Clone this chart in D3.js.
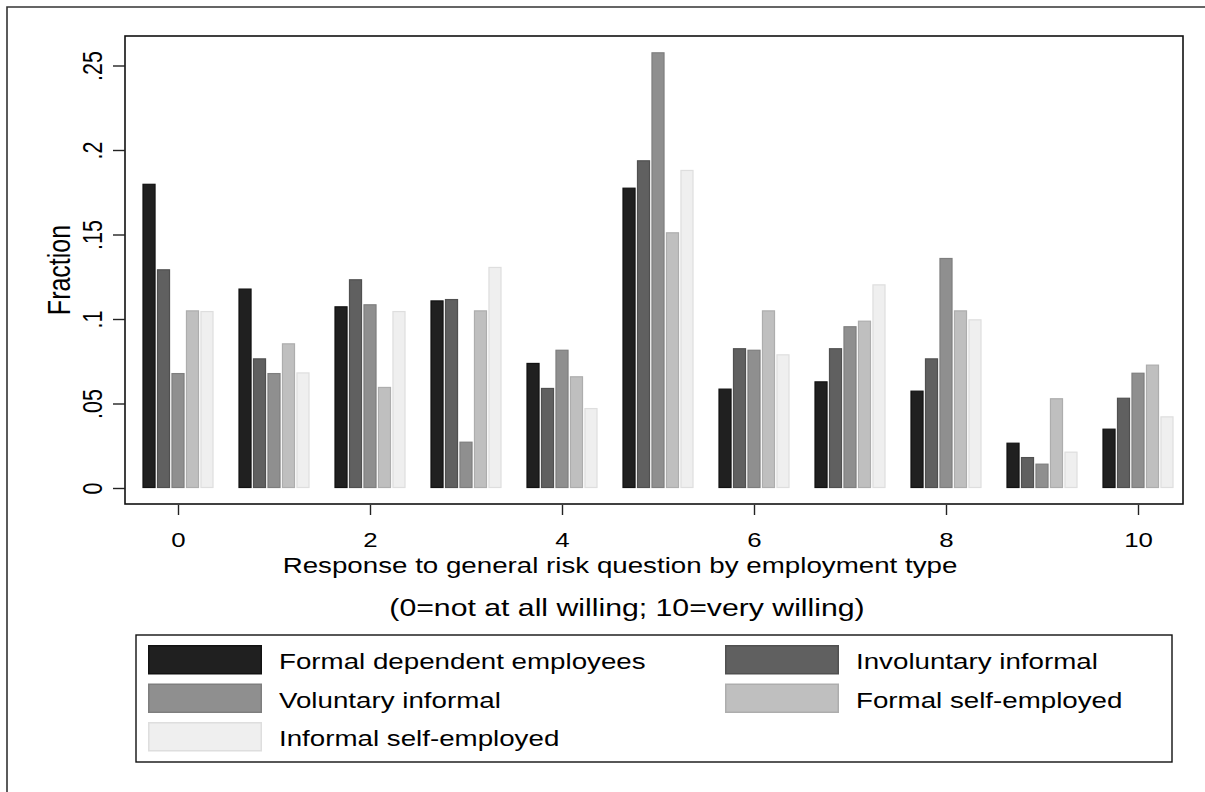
<!DOCTYPE html>
<html>
<head>
<meta charset="utf-8">
<script src="https://cdn.jsdelivr.net/npm/d3@7"></script>
<style>
  html, body { margin: 0; padding: 0; background: #fff; }
  svg { display: block; font-family: Arial, "Liberation Sans", sans-serif; }
</style>
</head>
<body>
<svg id="chart" width="1205" height="792"></svg>
<script>
// Risk-willingness responses (0-10) by employment type, as fractions
const responses = [0, 1, 2, 3, 4, 5, 6, 7, 8, 9, 10];
const seriesNames = [
  "Formal dependent employees",
  "Involuntary informal",
  "Voluntary informal",
  "Formal self-employed",
  "Informal self-employed"
];
const formalDependent   = [0.180, 0.118, 0.1075, 0.111, 0.074, 0.1777, 0.0588, 0.0631, 0.0576, 0.0268, 0.0351];
const involuntaryInf    = [0.1294, 0.0767, 0.1235, 0.1118, 0.0592, 0.1939, 0.0827, 0.0827, 0.0767, 0.0183, 0.0534];
const voluntaryInf      = [0.068, 0.068, 0.1087, 0.0274, 0.0818, 0.2578, 0.0818, 0.0957, 0.1361, 0.0144, 0.0682];
const formalSelfEmp     = [0.1051, 0.0856, 0.0598, 0.1051, 0.0661, 0.1513, 0.1051, 0.099, 0.1051, 0.0531, 0.073];
const informalSelfEmp   = [0.1047, 0.0684, 0.1047, 0.1308, 0.0473, 0.1882, 0.0791, 0.1205, 0.0998, 0.0215, 0.0424];
const seriesValues = [formalDependent, involuntaryInf, voluntaryInf, formalSelfEmp, informalSelfEmp];

const yTicks = [0, 0.05, 0.1, 0.15, 0.2, 0.25];
const yTickLabels = ["0", ".05", ".1", ".15", ".2", ".25"];
const xTicks = [0, 2, 4, 6, 8, 10];

const fills   = ["#202020", "#606060", "#8f8f8f", "#bfbfbf", "#efefef"];
const strokes = ["#121212", "#505050", "#7e7e7e", "#adadad", "#dedede"];

// glyphs in this graph are drawn wide: horizontal stretch factor for all text
const SX = 1.26;

const svg = d3.select("#chart");

// outer graph frame (left and top edges)
svg.append("path")
  .attr("d", "M7,792 L7,7 L1205,7")
  .attr("fill", "none").attr("stroke", "#333").attr("stroke-width", 1.6);

const plot = { left: 125, top: 36, right: 1183, bottom: 504 };

const x = d3.scaleLinear().domain([0, 10]).range([178, 1138]);
const y = d3.scaleLinear().domain([0, 0.25]).range([488, 65.5]);
const xInner = d3.scaleBand().domain(d3.range(seriesNames.length)).range([-35.5, 35.5]).paddingInner(0.1);

// bars
const groups = svg.append("g").selectAll("g")
  .data(responses)
  .join("g")
  .attr("transform", d => `translate(${x(d)},0)`);

groups.selectAll("rect")
  .data((d, i) => seriesValues.map((vals, s) => ({ s, v: vals[i] })))
  .join("rect")
  .attr("x", d => xInner(d.s) + 0.5)
  .attr("y", d => y(d.v) + 0.5)
  .attr("width", xInner.bandwidth() - 1)
  .attr("height", d => Math.max(0, y(0) - y(d.v) - 1))
  .attr("fill", d => fills[d.s])
  .attr("stroke", d => strokes[d.s])
  .attr("stroke-width", 1.2);

// plot frame
svg.append("rect")
  .attr("x", plot.left).attr("y", plot.top)
  .attr("width", plot.right - plot.left).attr("height", plot.bottom - plot.top)
  .attr("fill", "none").attr("stroke", "#111").attr("stroke-width", 1.6);

// y axis
const yAxis = d3.axisLeft(y).tickValues(yTicks).tickFormat((d, i) => yTickLabels[i]).tickSize(12).tickPadding(0);
const yg = svg.append("g").attr("transform", `translate(${plot.left},0)`).call(yAxis);
yg.select(".domain").remove();
yg.selectAll(".tick line").attr("stroke", "#222").attr("stroke-width", 1.4);
yg.selectAll(".tick text")
  .attr("x", 0).attr("dy", null)
  .attr("transform", `translate(-23,0) scale(${SX},1) rotate(-90)`)
  .attr("text-anchor", "middle")
  .attr("font-size", 21.5).attr("fill", "#000")
  .attr("font-family", "Arial, 'Liberation Sans', sans-serif");

// x axis
const xAxis = d3.axisBottom(x).tickValues(xTicks).tickFormat(d3.format("d")).tickSize(10).tickPadding(0);
const xg = svg.append("g").attr("transform", `translate(0,${plot.bottom + 1})`).call(xAxis);
xg.select(".domain").remove();
xg.selectAll(".tick line").attr("stroke", "#222").attr("stroke-width", 1.4);
xg.selectAll(".tick text")
  .attr("y", 0).attr("dy", null)
  .attr("transform", `translate(0,42) scale(${SX},1)`)
  .attr("font-size", 20.5).attr("fill", "#000")
  .attr("font-family", "Arial, 'Liberation Sans', sans-serif");

// axis titles
svg.append("text")
  .attr("transform", `translate(620,573) scale(${SX},1)`)
  .attr("text-anchor", "middle").attr("font-size", 22)
  .text("Response to general risk question by employment type");
svg.append("text")
  .attr("transform", `translate(627,616) scale(${SX},1)`)
  .attr("text-anchor", "middle").attr("font-size", 24)
  .text("(0=not at all willing; 10=very willing)");
svg.append("text")
  .attr("transform", `translate(70,270) scale(${SX},1) rotate(-90)`)
  .attr("text-anchor", "middle").attr("font-size", 25)
  .text("Fraction");

// legend
const legend = svg.append("g");
legend.append("rect")
  .attr("x", 136).attr("y", 635).attr("width", 1036).attr("height", 127)
  .attr("fill", "#fff").attr("stroke", "#111").attr("stroke-width", 1.4);

const legendCols = [148, 725];
const legendRows = [645, 683.5, 722];
const items = legend.selectAll("g.item")
  .data(seriesNames)
  .join("g")
  .attr("class", "item")
  .attr("transform", (d, i) => `translate(${legendCols[i % 2]},${legendRows[Math.floor(i / 2)]})`);
items.append("rect")
  .attr("x", 0.75).attr("y", 0.75).attr("width", 112.5).attr("height", 28)
  .attr("fill", (d, i) => fills[i]).attr("stroke", (d, i) => strokes[i]).attr("stroke-width", 1.5);
items.append("text")
  .attr("transform", `translate(131,24) scale(${SX},1)`)
  .attr("font-size", 22).attr("fill", "#000")
  .text(d => d);
</script>
</body>
</html>
